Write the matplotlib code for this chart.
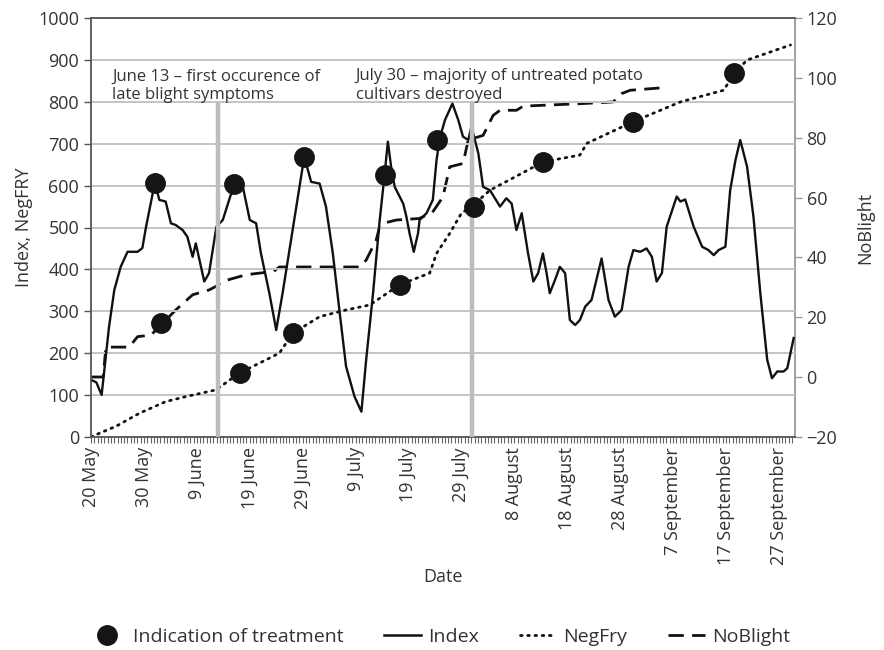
import matplotlib
matplotlib.use("Agg")
import matplotlib.pyplot as plt
from matplotlib.lines import Line2D
from matplotlib.ticker import MultipleLocator

plt.rcParams['font.family'] = ['Open Sans', 'DejaVu Sans']

# days since 20 May
tick_days = [0, 10, 20, 30, 40, 50, 60, 70, 80, 90, 100, 110, 120, 130]
tick_labels = ['20 May', '30 May', '9 June', '19 June', '29 June', '9 July', '19 July',
               '29 July', '8 August', '18 August', '28 August', '7 September',
               '17 September', '27 September']

index_days = [0, 1, 2, 3.4, 4.4, 5.6, 6.9, 8.8, 9.7, 10.4, 11.9, 12.1, 12.9, 14.1, 15.1, 16,
              17.3, 18.2, 19.2, 19.8, 20.5, 21.4, 22.3, 23.7, 24.9, 26.1, 27.1, 28.7, 30, 31.2,
              32.1, 33.7, 35, 36.2, 38.4, 40.3, 41.6, 43.2, 44.4, 45.7, 47, 48.2, 49.8, 51.1,
              52, 53.3, 54.5, 55.5, 56.1, 56.8, 57.4, 59, 59.6, 60.2, 61, 61.8, 62.1, 63.4,
              64.6, 65.3, 65.9, 66.9, 68.3, 69.4, 70.3, 71.3, 71.9, 73.2, 74.1, 75.4, 77.3,
              78.5, 79.5, 80.4, 81.4, 82.6, 83.6, 84.5, 85.4, 86.1, 86.7, 87.7, 88.6, 89.6,
              90.5, 91.5, 92.4, 93.4, 94.6, 96.5, 97.8, 99, 100.3, 101.6, 102.5, 103.8, 105,
              106, 106.9, 107.9, 108.8, 110.7, 111.4, 112.3, 113.9, 115.5, 116.7, 117.7,
              118.6, 119.9, 120.8, 121.8, 122.7, 124, 125.2, 126.5, 127.8, 128.7, 129.7,
              130.9, 131.6, 132.2, 132.8]
index_vals = [136, 130, 100, 263, 351, 406, 442, 442, 451, 502, 597, 606, 566, 562, 510, 506,
              494, 478, 430, 462, 422, 371, 391, 502, 518, 566, 605, 597, 518, 510, 439, 343,
              255, 343, 518, 669, 609, 605, 550, 438, 296, 168, 96, 60, 184, 343, 510, 629,
              705, 637, 597, 557, 526, 486, 442, 486, 518, 534, 566, 661, 713, 757, 796, 757,
              717, 709, 741, 677, 597, 589, 550, 570, 557, 494, 534, 438, 371, 391, 438, 391,
              343, 375, 406, 391, 279, 267, 279, 311, 327, 426, 327, 287, 303, 406, 446, 442,
              450, 430, 371, 391, 502, 574, 562, 567, 502, 454, 446, 434, 446, 454, 589, 661,
              709, 645, 526, 343, 184, 140, 156, 156, 164, 200, 236]

negfry_days = [0, 4.7, 9.1, 14.1, 17.9, 23.6, 28, 33.1, 35.6, 38.1, 43.2, 48.2, 52.7, 58.3,
               64, 65.3, 67.8, 70, 71.9, 75.4, 85.5, 92.4, 93.7, 102.5, 111.4, 119.6, 121.5,
               124, 132.2]
negfry_vals = [0, 25, 56, 84, 96, 112, 152, 184, 200, 247, 287, 303, 315, 363, 391, 438, 486,
               534, 550, 589, 657, 673, 701, 753, 800, 828, 868, 900, 936]

noblight_days = [0, 2.3, 2.8, 7.2, 8.8, 11.3, 12.9, 16, 19.2, 22.3, 23.6, 24.9, 29.3, 34.5,
                 35.6, 50.8, 52, 53.9, 54.5, 55.2, 57.7, 62, 64.5, 66.5, 67.8, 70.3, 71.3,
                 74.1, 76, 77.3, 80.4, 81.7, 92.4, 98.7, 100.3, 101.9, 108.5]
noblight_vals = [0, 0, 10, 10, 13.5, 14, 16.8, 22.4, 27.5, 29.1, 30.3, 32, 34.2, 35.3, 36.8,
                 36.8, 39.1, 45.8, 50, 51.4, 52.5, 53, 55, 60.2, 70.3, 71.4, 79.3, 80.8, 87.5,
                 89.2, 89.2, 90.6, 91.4, 92, 94.8, 95.9, 96.8]

treat_days = [12.1, 13.2, 27.1, 28.2, 38.1, 40.3, 55.5, 58.3, 65.3, 72.3, 85.4, 102.4, 121.5]
treat_vals = [606, 273, 605, 153, 247, 669, 625, 363, 709, 550, 657, 753, 868]

event_days = [24, 72]

txt = '#333333'
fig = plt.figure(figsize=(8.84, 6.5), dpi=100)
ax = fig.add_axes([0.103, 0.328, 0.796, 0.644])
ax2 = ax.twinx()
ax.set_zorder(ax2.get_zorder() + 1)
ax.patch.set_visible(False)

ax.set_xlim(0, 133)
ax.set_ylim(0, 1000)
ax2.set_ylim(-20, 120)

ax.yaxis.set_major_locator(MultipleLocator(100))
ax2.yaxis.set_major_locator(MultipleLocator(20))
ax.grid(axis='y', color='#c4c4c4', lw=1.4, zorder=0)
ax.set_axisbelow(True)

ax.vlines(event_days, 0, 800, color='#bdbdbd', lw=3.2, zorder=3)

ax2.plot(noblight_days, noblight_vals, color='#111111', lw=2.0, ls=(0, (5.5, 3)))
ax.plot(index_days, index_vals, color='#111111', lw=1.7, zorder=2)
ax.plot(negfry_days, negfry_vals, color='#111111', lw=2.0, ls=(0, (0.6, 2.0)),
        dash_capstyle='round', zorder=2)
ax.plot(treat_days, treat_vals, 'o', color='#151515', ms=14, zorder=4)

ax.text(4, 880, 'June 13 – first occurence of\nlate blight symptoms', fontsize=12,
        color=txt, va='top', linespacing=1.25)
ax.text(50, 880, 'July 30 – majority of untreated potato\ncultivars destroyed', fontsize=12,
        color=txt, va='top', linespacing=1.25)

ax.set_xticks(tick_days)
ax.set_xticklabels(tick_labels, rotation=90)
ax.xaxis.set_minor_locator(MultipleLocator(0.625))
ax.tick_params(axis='x', which='both', length=4, width=0.8, color='#666666',
               labelsize=13, labelcolor=txt)
ax.tick_params(axis='y', length=5, width=1, color='#555555', labelsize=13, labelcolor=txt)
ax2.tick_params(axis='y', length=5, width=1, color='#999999', labelsize=13, labelcolor=txt)

for s in ['left', 'bottom', 'top']:
    ax.spines[s].set_color('#555555')
    ax.spines[s].set_linewidth(1.3)
ax.spines['right'].set_visible(False)
for s in ['left', 'bottom', 'top']:
    ax2.spines[s].set_visible(False)
ax2.spines['right'].set_color('#999999')
ax2.spines['right'].set_linewidth(1.3)

ax.set_xlabel('Date', fontsize=13, color=txt, labelpad=2)
ax.set_ylabel('Index, NegFRY', fontsize=13, color=txt)
ax2.set_ylabel('NoBlight', fontsize=13, color=txt, labelpad=14)

handles = [
    Line2D([], [], ls='none', marker='o', color='#151515', ms=14),
    Line2D([], [], color='#111111', lw=1.8),
    Line2D([], [], color='#111111', lw=2.0, ls=(0, (0.6, 2.0)), dash_capstyle='round'),
    Line2D([], [], color='#111111', lw=2.0, ls=(0, (5.5, 3))),
]
fig.legend(handles, ['Indication of treatment', 'Index', 'NegFry', 'NoBlight'],
           loc='center', bbox_to_anchor=(0.497, 0.02), ncol=4, frameon=False,
           fontsize=14, handlelength=1.9, handletextpad=0.35, columnspacing=2.1,
           labelcolor=txt)

fig.savefig('out.png', dpi=100)
